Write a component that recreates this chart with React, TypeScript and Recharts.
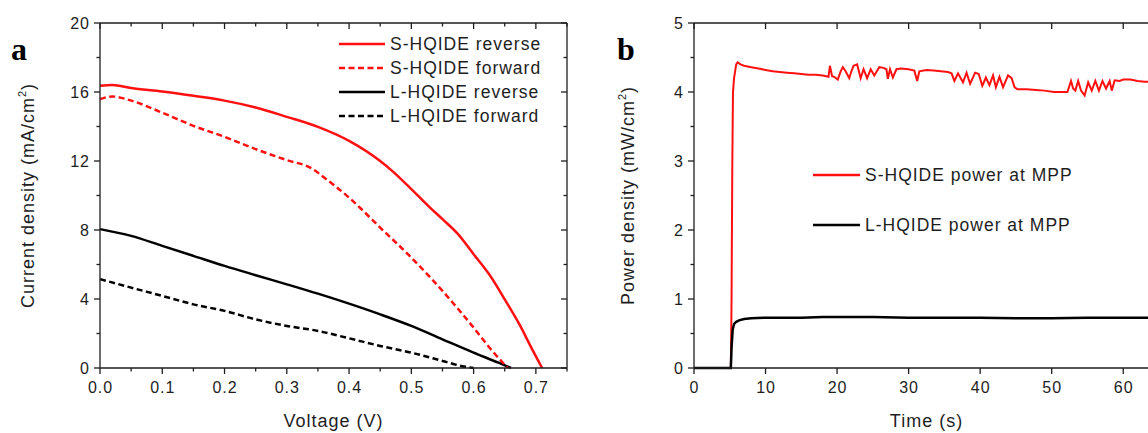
import { LineChart, Line, XAxis, YAxis, Legend } from 'recharts';

const FONT = '"Liberation Sans", Arial, sans-serif';
const INK = '#1e1e1e';
const RED = '#ff1010';

// panel a: J-V curves
const sRevV = [0, 0.02, 0.05, 0.1, 0.15, 0.2, 0.25, 0.3, 0.35, 0.4, 0.45, 0.47, 0.5, 0.53, 0.55, 0.575, 0.6, 0.625, 0.65, 0.675, 0.69, 0.71];
const sRevJ = [16.36, 16.4, 16.23, 16.03, 15.78, 15.5, 15.1, 14.56, 13.98, 13.17, 12.0, 11.4, 10.37, 9.3, 8.63, 7.76, 6.6, 5.43, 3.98, 2.44, 1.37, 0];
const sFwdV = [0, 0.02, 0.05, 0.1, 0.15, 0.2, 0.25, 0.3, 0.34, 0.36, 0.4, 0.45, 0.5, 0.55, 0.6, 0.63, 0.655];
const sFwdJ = [15.59, 15.74, 15.5, 14.8, 14.04, 13.4, 12.69, 12.05, 11.57, 11.04, 9.88, 8.14, 6.4, 4.47, 2.34, 0.99, 0];
const lRevV = [0, 0.05, 0.1, 0.15, 0.2, 0.25, 0.3, 0.35, 0.4, 0.45, 0.5, 0.55, 0.6, 0.64, 0.66];
const lRevJ = [8.05, 7.66, 7.08, 6.5, 5.92, 5.38, 4.85, 4.31, 3.73, 3.11, 2.44, 1.66, 0.89, 0.31, 0];
const lFwdV = [0, 0.05, 0.1, 0.15, 0.2, 0.25, 0.3, 0.35, 0.4, 0.45, 0.5, 0.55, 0.58, 0.6];
const lFwdJ = [5.15, 4.66, 4.18, 3.69, 3.31, 2.82, 2.44, 2.15, 1.72, 1.28, 0.89, 0.41, 0.12, 0];

const voltTicks = [0, 0.05, 0.1, 0.15, 0.2, 0.25, 0.3, 0.35, 0.4, 0.45, 0.5, 0.55, 0.6, 0.65, 0.7, 0.75];
const voltMajor = [0, 0.1, 0.2, 0.3, 0.4, 0.5, 0.6, 0.7];
const currentTicks = [0, 2, 4, 6, 8, 10, 12, 14, 16, 18, 20];
const currentMajor = [0, 4, 8, 12, 16, 20];

// panel b: power at MPP vs time
const sPowT = [
  0, 5.15, 5.25, 5.35, 5.45, 5.6, 5.9, 6.1, 6.5, 7,
  8, 9, 10, 11, 12, 13, 14, 15, 16, 17,
  18, 18.8, 19.0, 19.3, 19.6, 20.1, 20.5, 20.8, 21.2, 21.7,
  22.0, 22.3, 22.8, 23.3, 23.7, 24.2, 24.7, 25.2, 25.9, 26.5,
  26.9, 27.1, 27.4, 27.8, 28.3, 28.9, 30.0, 30.8, 31.2, 31.5,
  32.5, 33.5, 34.5, 35.5, 36.0, 36.4, 36.9, 37.6, 38.1, 38.6,
  39.3, 39.8, 40.3, 40.8, 41.3, 41.8, 42.2, 42.7, 43.2, 43.9,
  44.4, 44.8, 45.2, 46.5, 47.8, 49, 50.3, 51.3, 52.2, 52.7,
  53.0, 53.3, 53.7, 54.1, 54.6, 55.1, 55.6, 56.1, 56.6, 57.1,
  57.6, 58.1, 58.4, 58.8, 59.5, 60, 61, 62, 63, 64,
  65,
];
const sPowP = [
  0, 0, 1.0, 2.9, 4.0, 4.2, 4.4, 4.43, 4.4, 4.38,
  4.36, 4.34, 4.32, 4.3, 4.29, 4.28, 4.27, 4.26, 4.25, 4.25,
  4.24, 4.22, 4.38, 4.23, 4.22, 4.18, 4.3, 4.36, 4.3, 4.2,
  4.3, 4.38, 4.4, 4.2, 4.33, 4.2, 4.33, 4.24, 4.36, 4.35,
  4.33, 4.19, 4.33, 4.21, 4.33, 4.34, 4.33, 4.31, 4.16, 4.3,
  4.32, 4.31, 4.3, 4.29, 4.27, 4.16, 4.27, 4.14, 4.28, 4.12,
  4.28, 4.26, 4.09, 4.21, 4.1, 4.24, 4.07, 4.22, 4.07, 4.24,
  4.2, 4.07, 4.04, 4.04, 4.03, 4.02, 4.0, 4.0, 4.0, 4.16,
  4.05, 4.02, 4.16, 4.02, 3.95, 4.14, 4.02, 4.16, 4.02, 4.16,
  4.05, 4.16, 4.02, 4.17, 4.16, 4.18, 4.18, 4.16, 4.15, 4.15,
  4.15,
];
const lPowT = [0, 5.15, 5.25, 5.4, 5.6, 5.9, 6.3, 7, 8, 10, 12, 15, 18, 20, 25, 30, 35, 40, 45, 50, 55, 60, 65];
const lPowP = [0, 0, 0.3, 0.55, 0.64, 0.67, 0.69, 0.71, 0.72, 0.73, 0.73, 0.73, 0.74, 0.74, 0.74, 0.73, 0.73, 0.73, 0.72, 0.72, 0.73, 0.73, 0.73];

const timeTicks = [0, 10, 20, 30, 40, 50, 60];
const powerTicks = [0, 0.5, 1, 1.5, 2, 2.5, 3, 3.5, 4, 4.5, 5];
const powerMajor = [0, 1, 2, 3, 4, 5];

const legendA = ['S-HQIDE reverse', 'S-HQIDE forward', 'L-HQIDE reverse', 'L-HQIDE forward'];
const legendB = ['S-HQIDE power at MPP', 'L-HQIDE power at MPP'];

const zip = (xs: number[], ys: number[], xk: string, yk: string) =>
  xs.map((x, i) => ({ [xk]: x, [yk]: ys[i] }));

const DASH = '6 3.5';
const dashes: Record<string, string | undefined> = {
  'S-HQIDE forward': DASH,
  'L-HQIDE forward': DASH,
};

// plot boxes (page pixels); chart margins below are derived from these
const PLOT_TOP = 23;
const PLOT_BOTTOM = 368;
const A = { left: 100, right: 567, x0: 0, x1: 0.75, y0: 0, y1: 20 };
const B = { left: 694, right: 1159, x0: 0, x1: 65, y0: 0, y1: 5 };

const isMajor = (majors: number[], v: number) => majors.some((m) => Math.abs(m - v) < 1e-6);

function labelRenderer(side: 'bottom' | 'left', majors: number[], fmt: (v: number) => string) {
  return (props: any) => {
    const x = Number(props.x);
    const y = Number(props.y);
    const v = Number(props.payload.value);
    if (!isMajor(majors, v)) return <g />;
    const common = { fill: INK, fontFamily: FONT, fontSize: 16, letterSpacing: 1 };
    return side === 'bottom' ? (
      <text x={x + 0.5} y={y + 25} textAnchor="middle" {...common}>{fmt(v)}</text>
    ) : (
      <text x={x - 10} y={y + 5.5} textAnchor="end" {...common}>{fmt(v)}</text>
    );
  };
}

const titleStyle = { fill: INK, fontFamily: FONT, fontSize: 18, letterSpacing: 1 };

function xTitle(text: string) {
  return (p: any) => {
    const vb = p.viewBox;
    return (
      <text x={vb.x + vb.width / 2} y={vb.y + 59} textAnchor="middle" {...titleStyle}>
        {text}
      </text>
    );
  };
}

function yTitle(text: string, unit: string, dist: number) {
  return (p: any) => {
    const vb = p.viewBox;
    const cx = vb.x + vb.width - dist;
    const cy = vb.y + vb.height / 2;
    return (
      <text transform={`translate(${cx},${cy}) rotate(-90)`} textAnchor="middle" {...titleStyle}>
        {text} ({unit}
        <tspan fontSize={11} dy={-8}>2</tspan>
        <tspan dy={8}>)</tspan>
      </text>
    );
  };
}

function legendContent(order: string[], rowH: number, lineW: number) {
  return (props: any) => {
    const items = order
      .map((name) => (props.payload || []).find((e: any) => e.value === name))
      .filter(Boolean);
    return (
      <div style={{ fontFamily: FONT, fontSize: 17.5, letterSpacing: 1, color: INK }}>
        {items.map((e: any) => (
          <div key={e.value} style={{ display: 'flex', alignItems: 'center', height: rowH, whiteSpace: 'nowrap' }}>
            <svg width={lineW} height={10} style={{ display: 'block' }}>
              <line x1={0} y1={5} x2={lineW} y2={5} stroke={e.color} strokeWidth={2.6} strokeDasharray={dashes[e.value]} />
            </svg>
            <span style={{ marginLeft: 5 }}>{e.value}</span>
          </div>
        ))}
      </div>
    );
  };
}

// box frame with tick marks: out on bottom/left, in on top/right
function Frame({ box, xTicks, xMajor, yTicks, yMajor, right }: any) {
  const sx = (v: number) => box.left + ((v - box.x0) / (box.x1 - box.x0)) * (box.right - box.left);
  const sy = (v: number) => PLOT_BOTTOM - ((v - box.y0) / (box.y1 - box.y0)) * (PLOT_BOTTOM - PLOT_TOP);
  const len = (major: boolean) => (major ? 6 : 3.5);
  return (
    <g stroke={INK} strokeWidth={1.3} fill="none">
      <line x1={box.left} y1={PLOT_TOP} x2={box.right} y2={PLOT_TOP} />
      {right && <line x1={box.right} y1={PLOT_TOP} x2={box.right} y2={PLOT_BOTTOM} />}
      {xTicks.map((v: number) => {
        const x = sx(v);
        const l = len(isMajor(xMajor, v));
        return (
          <g key={`x${v}`}>
            <line x1={x} y1={PLOT_BOTTOM} x2={x} y2={PLOT_BOTTOM + l} />
            <line x1={x} y1={PLOT_TOP} x2={x} y2={PLOT_TOP + l} />
          </g>
        );
      })}
      {yTicks.map((v: number) => {
        const y = sy(v);
        const l = len(isMajor(yMajor, v));
        return (
          <g key={`y${v}`}>
            <line x1={box.left} y1={y} x2={box.left - l} y2={y} />
            {right && <line x1={box.right} y1={y} x2={box.right - l} y2={y} />}
          </g>
        );
      })}
    </g>
  );
}

const panelLetter = (text: string, left: number) => (
  <div
    style={{
      position: 'absolute',
      left,
      top: 31,
      fontFamily: '"Liberation Serif", "Times New Roman", serif',
      fontWeight: 'bold',
      fontSize: 32,
      lineHeight: '36px',
      color: '#000',
    }}
  >
    {text}
  </div>
);

const axisStroke = { stroke: INK, strokeWidth: 1.3 };

export default function App() {
  return (
    <div style={{ position: 'absolute', left: 0, top: 0, width: 1148, height: 433, overflow: 'hidden', background: '#fff' }}>
      <div style={{ position: 'absolute', left: 0, top: 0 }}>
        <LineChart width={600} height={433} margin={{ top: PLOT_TOP, right: 600 - A.right, bottom: 433 - PLOT_BOTTOM - 30, left: A.left - 60 }}>
          <XAxis
            type="number"
            dataKey="v"
            domain={[A.x0, A.x1]}
            ticks={voltTicks}
            interval={0}
            height={30}
            axisLine={axisStroke}
            tickLine={false}
            tickSize={0}
            tickMargin={0}
            tick={labelRenderer('bottom', voltMajor, (v) => v.toFixed(1))}
            label={{ content: xTitle('Voltage (V)') }}
          />
          <YAxis
            type="number"
            domain={[A.y0, A.y1]}
            ticks={currentTicks}
            interval={0}
            width={60}
            axisLine={axisStroke}
            tickLine={false}
            tickSize={0}
            tickMargin={0}
            tick={labelRenderer('left', currentMajor, (v) => String(v))}
            label={{ content: yTitle('Current density', 'mA/cm', 66.5) }}
          />
          <Legend
            layout="vertical"
            align="center"
            verticalAlign="middle"
            content={legendContent(legendA, 24, 46)}
            wrapperStyle={{ left: 339, top: 32, width: 230 }}
          />
          <Line data={zip(lFwdV, lFwdJ, 'v', 'j')} dataKey="j" name="L-HQIDE forward" stroke="#000" strokeWidth={2.5} strokeDasharray={DASH} type="monotone" dot={false} isAnimationActive={false} />
          <Line data={zip(lRevV, lRevJ, 'v', 'j')} dataKey="j" name="L-HQIDE reverse" stroke="#000" strokeWidth={2.5} type="monotone" dot={false} isAnimationActive={false} />
          <Line data={zip(sFwdV, sFwdJ, 'v', 'j')} dataKey="j" name="S-HQIDE forward" stroke={RED} strokeWidth={2.5} strokeDasharray={DASH} type="monotone" dot={false} isAnimationActive={false} />
          <Line data={zip(sRevV, sRevJ, 'v', 'j')} dataKey="j" name="S-HQIDE reverse" stroke={RED} strokeWidth={2.5} type="monotone" dot={false} isAnimationActive={false} />
        </LineChart>
      </div>

      <div style={{ position: 'absolute', left: 600, top: 0 }}>
        <LineChart width={600} height={433} margin={{ top: PLOT_TOP, right: 600 - (B.right - 600), bottom: 433 - PLOT_BOTTOM - 30, left: B.left - 600 - 60 }}>
          <XAxis
            type="number"
            dataKey="t"
            domain={[B.x0, B.x1]}
            ticks={timeTicks}
            interval={0}
            height={30}
            axisLine={axisStroke}
            tickLine={false}
            tickSize={0}
            tickMargin={0}
            tick={labelRenderer('bottom', timeTicks, (v) => String(v))}
            label={{ content: xTitle('Time (s)') }}
          />
          <YAxis
            type="number"
            domain={[B.y0, B.y1]}
            ticks={powerTicks}
            interval={0}
            width={60}
            axisLine={axisStroke}
            tickLine={false}
            tickSize={0}
            tickMargin={0}
            tick={labelRenderer('left', powerMajor, (v) => String(v))}
            label={{ content: yTitle('Power density', 'mW/cm', 60.5) }}
          />
          <Legend
            layout="vertical"
            align="center"
            verticalAlign="middle"
            content={legendContent(legendB, 50, 47)}
            wrapperStyle={{ left: 213, top: 150, width: 300 }}
          />
          <Line data={zip(sPowT, sPowP, 't', 'p')} dataKey="p" name="S-HQIDE power at MPP" stroke={RED} strokeWidth={2} type="linear" dot={false} isAnimationActive={false} />
          <Line data={zip(lPowT, lPowP, 't', 'p')} dataKey="p" name="L-HQIDE power at MPP" stroke="#000" strokeWidth={2.5} type="linear" dot={false} isAnimationActive={false} />
        </LineChart>
      </div>

      <svg width={1148} height={433} style={{ position: 'absolute', left: 0, top: 0, pointerEvents: 'none' }}>
        <Frame box={A} xTicks={voltTicks} xMajor={voltMajor} yTicks={currentTicks} yMajor={currentMajor} right />
        <Frame box={B} xTicks={timeTicks} xMajor={timeTicks} yTicks={powerTicks} yMajor={powerMajor} right={false} />
      </svg>

      {panelLetter('a', 11)}
      {panelLetter('b', 617)}
    </div>
  );
}
